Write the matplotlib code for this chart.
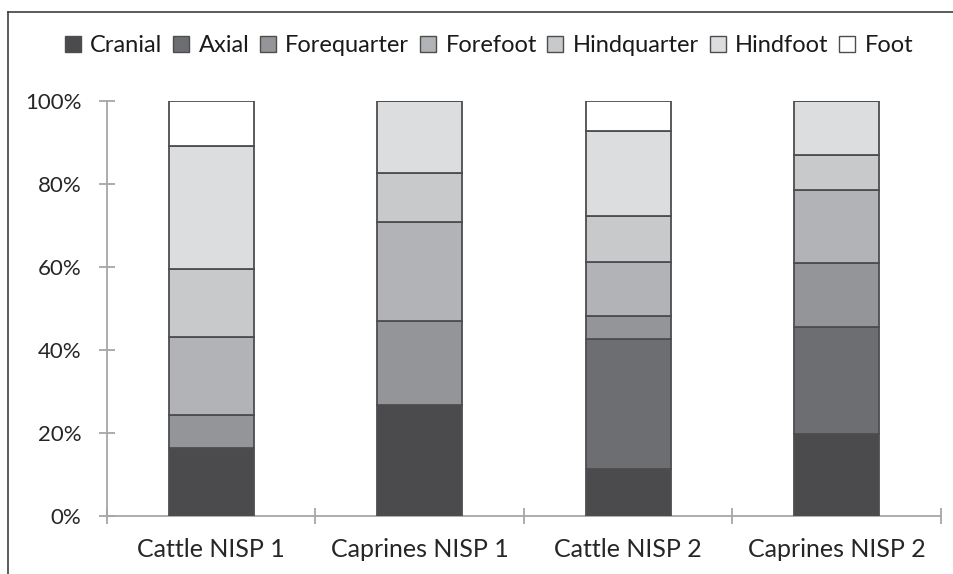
import matplotlib
matplotlib.use("Agg")
import matplotlib.pyplot as plt
from matplotlib.lines import Line2D
from matplotlib.patches import Patch
from matplotlib.ticker import PercentFormatter
import numpy as np

plt.rcParams['font.family'] = ['Lato', 'DejaVu Sans']

# percentage of NISP by body part, per sample
samples = ["Cattle NISP 1", "Caprines NISP 1", "Cattle NISP 2", "Caprines NISP 2"]
parts = ["Cranial", "Axial", "Forequarter", "Forefoot", "Hindquarter", "Hindfoot", "Foot"]

cranial     = [16.2, 26.6, 11.2, 19.7]
axial       = [0.0, 0.0, 31.4, 25.8]
forequarter = [8.0, 20.4, 5.5, 15.5]
forefoot    = [18.9, 23.7, 13.0, 17.5]
hindquarter = [16.3, 11.8, 11.1, 8.5]
hindfoot    = [29.8, 17.5, 20.6, 13.0]
foot        = [10.8, 0.0, 7.2, 0.0]

series = [cranial, axial, forequarter, forefoot, hindquarter, hindfoot, foot]
colors = ["#4b4b4d", "#6d6e71", "#949598", "#b2b3b6", "#c8c9cb", "#dcddde", "#ffffff"]
edge = "#4d4d4f"
axis_grey = "#a6a6a6"

fig = plt.figure(figsize=(9.54, 5.74), dpi=100)
ax = fig.add_axes([107 / 954, 1 - 515.7 / 574, (941 - 107) / 954, (515.7 - 100.7) / 574])

x = np.arange(len(samples))
bottom = np.zeros(len(samples))
for name, vals, c in zip(parts, series, colors):
    vals = np.array(vals) / 100.0
    ax.bar(x, vals, width=0.41, bottom=bottom, color=c, edgecolor=edge,
           linewidth=1.3, label=name, zorder=3)
    bottom += vals

ax.set_xlim(-0.5, len(samples) - 0.5)
ax.set_ylim(0, 1)
ax.set_yticks(np.arange(0, 1.01, 0.2))
ax.yaxis.set_major_formatter(PercentFormatter(1.0, decimals=0))
ax.set_xticks(x)
ax.set_xticklabels(samples)
ax.set_xticks(np.arange(-0.5, len(samples)), minor=True)

for s in ["top", "right"]:
    ax.spines[s].set_visible(False)
for s in ["left", "bottom"]:
    ax.spines[s].set_color(axis_grey)
    ax.spines[s].set_linewidth(1.3)
    ax.spines[s].set_zorder(2)

ax.tick_params(axis="y", direction="inout", length=11, width=1.3, color=axis_grey,
               labelsize=16, labelcolor="#262626", pad=13)
ax.tick_params(axis="x", which="major", length=0, labelsize=18, labelcolor="#262626", pad=16)
ax.tick_params(axis="x", which="minor", direction="inout", length=12, width=1.3, color=axis_grey)

handles = [Patch(facecolor=c, edgecolor=edge, linewidth=1.0) for c in colors]
fig.legend(handles, parts, loc="center", bbox_to_anchor=(489 / 954, 1 - 46 / 574), ncol=7,
           frameon=False, fontsize=17, handlelength=0.68, handleheight=0.68,
           handletextpad=0.4, columnspacing=0.45, labelcolor="#1a1a1a")

# outer frame lines
fig.add_artist(Line2D([8 / 954, 8 / 954], [0, 1 - 12 / 574], color="#404040", linewidth=1.2))
fig.add_artist(Line2D([8 / 954, 1], [1 - 12 / 574, 1 - 12 / 574], color="#404040", linewidth=1.2))

fig.savefig("out.png", dpi=100)
